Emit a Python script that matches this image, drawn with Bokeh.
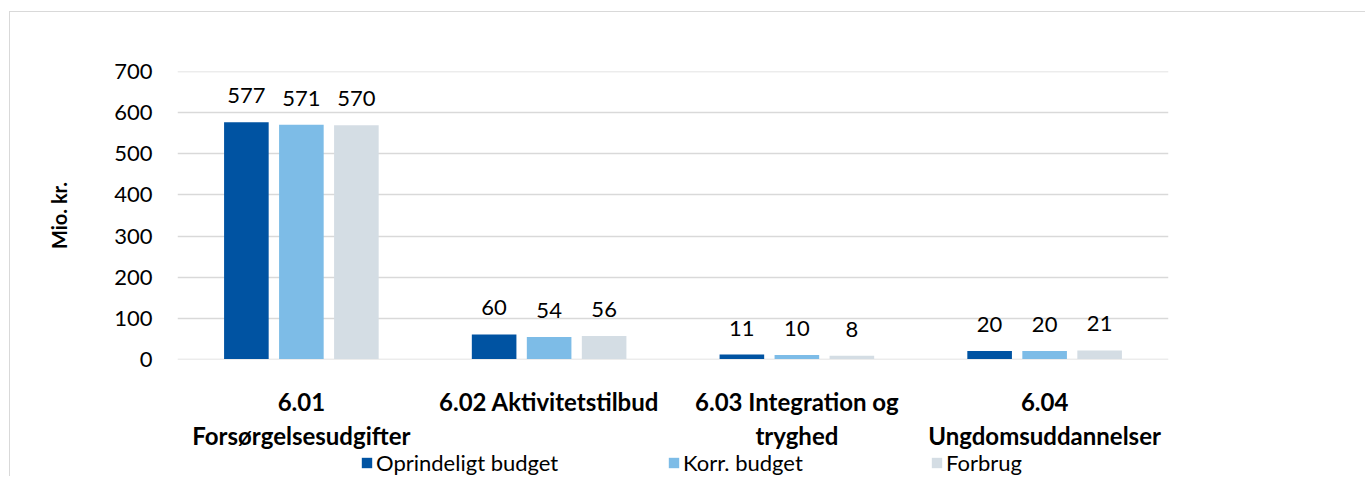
from bokeh.plotting import figure
from bokeh.layouts import column
from bokeh.models import FactorRange, Range1d, Legend, LegendItem, ColumnDataSource
from bokeh.transform import dodge
from bokeh.core.properties import value
from bokeh.embed import file_html
from bokeh.resources import INLINE

categories = ["6.01\nForsørgelsesudgifter", "6.02 Aktivitetstilbud",
              "6.03 Integration og\ntryghed", "6.04\nUngdomsuddannelser"]
series_names = ["Oprindeligt budget", "Korr. budget", "Forbrug"]
oprindeligt = [577, 60, 11, 20]
korr = [571, 54, 10, 20]
forbrug = [570, 56, 8, 21]
y_ticks = [0, 100, 200, 300, 400, 500, 600, 700]

colors = ["#0053a2", "#7dbce7", "#d4dde4"]
offsets = [-0.222, 0.0, 0.222]
FONT = "Lato"

src = ColumnDataSource(dict(
    cat=categories,
    s0=oprindeligt, s1=korr, s2=forbrug,
    l0=[str(v) for v in oprindeligt],
    l1=[str(v) for v in korr],
    l2=[str(v) for v in forbrug],
))

p = figure(x_range=FactorRange(*categories), y_range=Range1d(-1, 701),
           width=1356, height=441, output_backend="svg", toolbar_location=None,
           min_border_left=167, min_border_right=198, min_border_top=59,
           min_border_bottom=84,
           styles={"border-left": "1px solid #d9d9d9", "border-top": "1px solid #d9d9d9",
                   "margin-top": "11px", "margin-left": "9px"})
p.outline_line_color = None
p.xgrid.grid_line_color = None
p.ygrid.grid_line_color = "#d9d9d9"
p.ygrid.grid_line_width = 1.5
p.yaxis.ticker = y_ticks

for i, (col, lab) in enumerate([("s0", "l0"), ("s1", "l1"), ("s2", "l2")]):
    p.vbar(x=dodge("cat", offsets[i], range=p.x_range), top=col, width=0.18,
           source=src, color=colors[i], line_color=None)
    p.text(x=dodge("cat", offsets[i], range=p.x_range), y=col, text=lab, source=src,
           text_align="center", text_baseline="bottom", y_offset=-19,
           text_font_size="22px", text_color="#000000", text_font=value(FONT))

for ax in (p.xaxis, p.yaxis):
    ax.axis_line_color = None
    ax.major_tick_line_color = None
    ax.minor_tick_line_color = None
    ax.major_label_text_font = FONT
    ax.major_label_text_color = "#000000"

p.yaxis.major_label_text_font_size = "22px"
p.yaxis.major_label_standoff = 19
p.yaxis.axis_label = "Mio. kr."
p.yaxis.axis_label_text_font = FONT
p.yaxis.axis_label_text_font_size = "20px"
p.yaxis.axis_label_text_font_style = "bold"
p.yaxis.axis_label_text_color = "#000000"
p.yaxis.axis_label_standoff = 40

p.xaxis.major_label_text_font_size = "24px"
p.xaxis.major_label_text_font_style = "bold"
p.xaxis.major_label_standoff = 21

# legend strip below the chart (its bars fall outside its visible range)
lp = figure(width=1356, height=24, output_backend="svg", toolbar_location=None,
            x_axis_type=None, y_axis_type=None, min_border=0,
            x_range=FactorRange(*categories), y_range=Range1d(5000, 5001),
            styles={"border-left": "1px solid #d9d9d9", "margin-left": "9px"})
lp.outline_line_color = None
lp.xgrid.grid_line_color = None
lp.ygrid.grid_line_color = None

legend_x = [183, 490, 753]
for i, (name, col) in enumerate(zip(series_names, ["s0", "s1", "s2"])):
    r = lp.vbar(x="cat", top=col, width=0.18, source=src, color=colors[i], line_color=None)
    lg = Legend(items=[LegendItem(label=name, renderers=[r])],
                location=(legend_x[i], 0), orientation="horizontal",
                glyph_width=13, glyph_height=13, label_standoff=3,
                padding=0, margin=0, border_line_color=None,
                background_fill_alpha=0, label_text_font=FONT,
                label_text_font_size="22px", label_text_color="#000000")
    lp.add_layout(lg, "center")

layout = column(p, lp, spacing=0)
open("out.html", "w").write(file_html(layout, INLINE))
